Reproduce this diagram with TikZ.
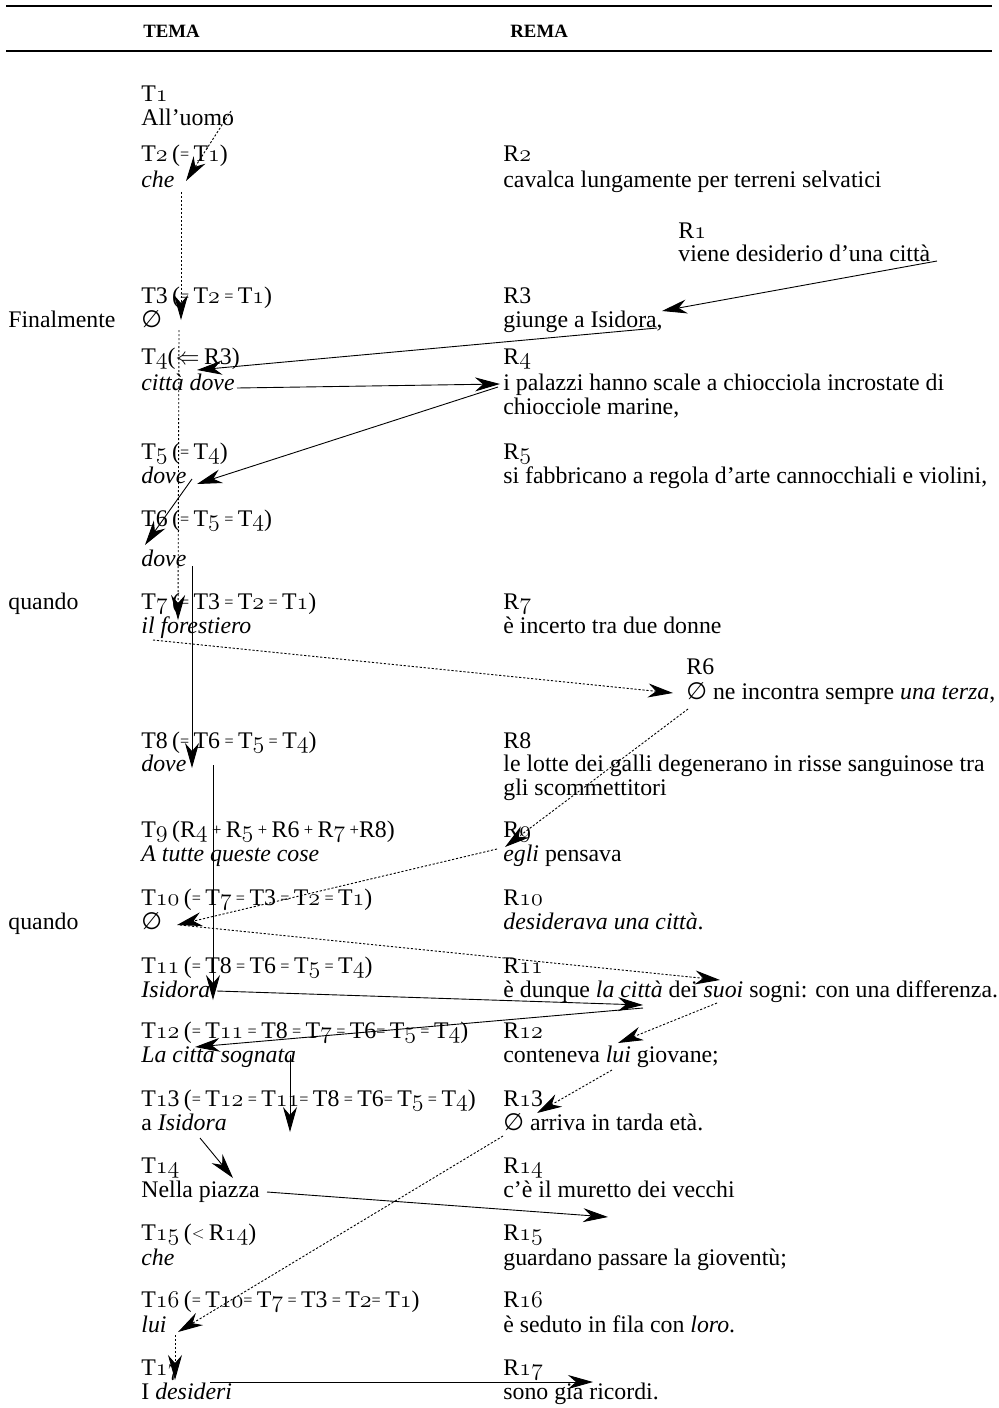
\documentclass[tikz,border=0pt]{standalone}
\usepackage{graphicx}
\usepackage{fontspec}
\setmainfont{Liberation Serif}
\newfontfamily\djvfont{DejaVu Sans}
\usetikzlibrary{arrows.meta}
\newcommand\osn[1]{{\usefont{OML}{cmm}{m}{it}#1}}
\newcommand\myeq{\raisebox{0.12ex}{\scalebox{0.68}{=}}}
\newcommand\mypl{\raisebox{0.1ex}{\scalebox{0.7}{+}}}
\newcommand\mylt{\raisebox{0.1ex}{\scalebox{0.7}{$<$}}}
\newcommand\myes{{\djvfont ∅}}
\newcommand\labfont{\fontsize{11.9}{14}\selectfont\spaceskip=2.2pt plus 1pt\relax}
\tikzset{
  txt/.style={anchor=base west, inner sep=0pt, font=\fontsize{11.9}{14}\selectfont},
  lab/.style={anchor=base west, inner sep=0pt, font=\labfont},
  hdr/.style={anchor=base west, inner sep=0pt, font=\fontsize{9.4}{11}\selectfont\bfseries},
  rulel/.style={line width=1pt},
  arr/.style={-{Stealth[length=12.5pt,width=7pt,inset=4pt]}, line width=0.45pt},
  dotarr/.style={arr, dash pattern=on 1.1pt off 0.9pt},
}
\begin{document}
\begin{tikzpicture}[x=0.5pt,y=-0.5pt]
\useasboundingbox (0,0) rectangle (998,1408);
% header
\draw[rulel] (6,6) -- (992,6);
\draw[rulel] (6,51) -- (992,51);
\node[hdr] (tema) at (143,38) {TEMA};
\node[hdr] (rema) at (510,38) {REMA};
% rows
\node[lab] (t1) at (141,101) {T\osn{1}};
\node[txt] (t1c) at (141,125) {All’uomo};
\node[lab] (t2) at (141,161) {T\osn{2} (\myeq{} T\osn{1})};
\node[txt] (t2c) at (141,187) {\textit{che}};
\node[lab] (r2) at (503,161) {R\osn{2}};
\node[txt] (r2c) at (503,187) {cavalca lungamente per terreni selvatici};
\node[lab] (r1) at (678,238) {R\osn{1}};
\node[txt] (r1c) at (678,261) {viene desiderio d’una città};
\node[txt] (fin) at (8,327) {Finalmente};
\node[lab] (t3) at (141,303) {T3 (\myeq{} T\osn{2} \myeq{} T\osn{1})};
\node[txt] (t3c) at (141,327) {\myes};
\node[lab] (r3) at (503,303) {R3};
\node[txt] (r3c) at (503,327) {giunge a Isidora,};
\node[lab] (t4) at (141,364) {T\osn{4}($\Leftarrow$ R3)};
\node[txt] (t4c) at (141,390) {\textit{città dove}};
\node[lab] (r4) at (503,364) {R\osn{4}};
\node[txt] (r4c) at (503,390) {i palazzi hanno scale a chiocciola incrostate di};
\node[txt] (r4d) at (503,414) {chiocciole marine,};
\node[lab] (t5) at (141,459) {T\osn{5} (\myeq{} T\osn{4})};
\node[txt] (t5c) at (141,483) {\textit{dove}};
\node[lab] (r5) at (503,459) {R\osn{5}};
\node[txt] (r5c) at (503,483) {si fabbricano a regola d’arte cannocchiali e violini,};
\node[lab] (t6) at (141,526) {T6 (\myeq{} T\osn{5} \myeq{} T\osn{4})};
\node[txt] (t6c) at (141,566) {\textit{dove}};
\node[txt] (q1) at (8,609) {quando};
\node[lab] (t7) at (141,609) {T\osn{7} (\myeq{} T3 \myeq{} T\osn{2} \myeq{} T\osn{1})};
\node[txt] (t7c) at (141,633) {\textit{il forestiero}};
\node[lab] (r7) at (503,609) {R\osn{7}};
\node[txt] (r7c) at (503,633) {è incerto tra due donne};
\node[lab] (r6) at (686,674) {R6};
\node[txt] (r6c) at (686,699) {\myes{} ne incontra sempre \textit{una terza},};
\node[lab] (t8) at (141,748) {T8 (\myeq{} T6 \myeq{} T\osn{5} \myeq{} T\osn{4})};
\node[txt] (t8c) at (141,771) {\textit{dove}};
\node[lab] (r8) at (503,748) {R8};
\node[txt] (r8c) at (503,771) {le lotte dei galli degenerano in risse sanguinose tra};
\node[txt] (r8d) at (503,795) {gli scommettitori};
\node[lab] (t9) at (141,837) {T\osn{9} (R\osn{4} \mypl{} R\osn{5} \mypl{} R6 \mypl{} R\osn{7} \mypl{}R8)};
\node[txt] (t9c) at (141,861) {\textit{A tutte queste cose}};
\node[lab] (r9) at (503,837) {R\osn{9}};
\node[txt] (r9c) at (503,861) {\textit{egli} pensava};
\node[txt] (q2) at (8,929) {quando};
\node[lab] (t10) at (141,905) {T\osn{10} (\myeq{} T\osn{7} \myeq{} T3 \myeq{} T\osn{2} \myeq{} T\osn{1})};
\node[txt] (t10c) at (141,929) {\myes};
\node[lab] (r10) at (503,905) {R\osn{10}};
\node[txt] (r10c) at (503,929) {\textit{desiderava una città}.};
\node[lab] (t11) at (141,973) {T\osn{11} (\myeq{} T8 \myeq{} T6 \myeq{} T\osn{5} \myeq{} T\osn{4})};
\node[txt] (t11c) at (141,997) {\textit{Isidora}};
\node[lab] (r11) at (503,973) {R\osn{11}};
\node[txt] (r11c) at (503,997) {è dunque \textit{la città} dei \textit{suoi} sogni: con una differenza.};
\node[lab] (t12) at (141,1038) {T\osn{12} (\myeq{} T\osn{11} \myeq{} T8 \myeq{} T\osn{7} \myeq{} T6\myeq{} T\osn{5} \myeq{} T\osn{4})};
\node[txt] (t12c) at (141,1062) {\textit{La città sognata}};
\node[lab] (r12) at (503,1038) {R\osn{12}};
\node[txt] (r12c) at (503,1062) {conteneva \textit{lui} giovane;};
\node[lab] (t13) at (141,1106) {T\osn{1}3 (\myeq{} T\osn{12} \myeq{} T\osn{11}\myeq{} T8 \myeq{} T6\myeq{} T\osn{5} \myeq{} T\osn{4})};
\node[txt] (t13c) at (141,1130) {a \textit{Isidora}};
\node[lab] (r13) at (503,1106) {R\osn{1}3};
\node[txt] (r13c) at (503,1130) {\myes{} arriva in tarda età.};
\node[lab] (t14) at (141,1173) {T\osn{14}};
\node[txt] (t14c) at (141,1197) {Nella piazza};
\node[lab] (r14) at (503,1173) {R\osn{14}};
\node[txt] (r14c) at (503,1197) {c’è il muretto dei vecchi};
\node[lab] (t15) at (141,1240) {T\osn{15} (\mylt{} R\osn{14})};
\node[txt] (t15c) at (141,1265) {\textit{che}};
\node[lab] (r15) at (503,1240) {R\osn{15}};
\node[txt] (r15c) at (503,1265) {guardano passare la gioventù;};
\node[lab] (t16) at (141,1307) {T\osn{16} (\myeq{} T\osn{10}\myeq{} T\osn{7} \myeq{} T3 \myeq{} T\osn{2}\myeq{} T\osn{1})};
\node[txt] (t16c) at (141,1332) {\textit{lui}};
\node[lab] (r16) at (503,1307) {R\osn{16}};
\node[txt] (r16c) at (503,1332) {è seduto in fila con \textit{loro}.};
\node[lab] (t17) at (141,1375) {T\osn{17}};
\node[txt] (t17c) at (141,1399) {I \textit{desideri}};
\node[lab] (r17) at (503,1375) {R\osn{17}};
\node[txt] (r17c) at (503,1399) {sono già ricordi.};
% connector end points
\coordinate (a1s) at (231,111);  \coordinate (a1e) at (186,181);
\coordinate (a2s) at (181,192);  \coordinate (a2e) at (181,320);
\coordinate (a3s) at (179,330);  \coordinate (a3e) at (178,620);
\coordinate (a4s) at (937,261);  \coordinate (a4e) at (662,311);
\coordinate (a5s) at (657,328);  \coordinate (a5e) at (197,370);
\coordinate (a6s) at (237,388);  \coordinate (a6e) at (500,384);
\coordinate (a7s) at (498,387);  \coordinate (a7e) at (197,484);
\coordinate (a8s) at (192,479);  \coordinate (a8e) at (145,545);
\coordinate (a9s) at (192,566);  \coordinate (a9e) at (192,768);
\coordinate (a10s) at (153,640); \coordinate (a10e) at (673,693);
\coordinate (a11s) at (688,709); \coordinate (a11e) at (505,847);
\coordinate (a12s) at (497,849); \coordinate (a12e) at (177,925);
\coordinate (a13s) at (213,765); \coordinate (a13e) at (213,1000);
\coordinate (a14s) at (180,925); \coordinate (a14e) at (720,980);
\coordinate (a15s) at (217,991); \coordinate (a15e) at (643,1005);
\coordinate (a16s) at (643,1008); \coordinate (a16e) at (195,1047);
\coordinate (a17s) at (717,1003); \coordinate (a17e) at (618,1043);
\coordinate (a18s) at (612,1070); \coordinate (a18e) at (537,1113);
\coordinate (a19s) at (290,1055); \coordinate (a19e) at (290,1132);
\coordinate (a20s) at (200,1138); \coordinate (a20e) at (233,1178);
\coordinate (a21s) at (503,1136); \coordinate (a21e) at (178,1332);
\coordinate (a22s) at (267,1192); \coordinate (a22e) at (608,1217);
\coordinate (a23s) at (175,1335); \coordinate (a23e) at (175,1380);
\coordinate (a24s) at (210,1382); \coordinate (a24e) at (593,1382);
% connectors
\draw[dotarr] (a1s) -- (a1e);
\draw[dotarr] (a2s) -- (a2e);
\draw[dotarr] (a3s) -- (a3e);
\draw[arr] (a4s) -- (a4e);
\draw[arr] (a5s) -- (a5e);
\draw[arr] (a6s) -- (a6e);
\draw[arr] (a7s) -- (a7e);
\draw[arr] (a8s) -- (a8e);
\draw[arr] (a9s) -- (a9e);
\draw[dotarr] (a10s) -- (a10e);
\draw[dotarr] (a11s) -- (a11e);
\draw[dotarr] (a12s) -- (a12e);
\draw[arr] (a13s) -- (a13e);
\draw[dotarr] (a14s) -- (a14e);
\draw[arr] (a15s) -- (a15e);
\draw[arr] (a16s) -- (a16e);
\draw[dotarr] (a17s) -- (a17e);
\draw[dotarr] (a18s) -- (a18e);
\draw[arr] (a19s) -- (a19e);
\draw[arr] (a20s) -- (a20e);
\draw[dotarr] (a21s) -- (a21e);
\draw[arr] (a22s) -- (a22e);
\draw[dotarr] (a23s) -- (a23e);
\draw[arr] (a24s) -- (a24e);
\end{tikzpicture}
\end{document}
